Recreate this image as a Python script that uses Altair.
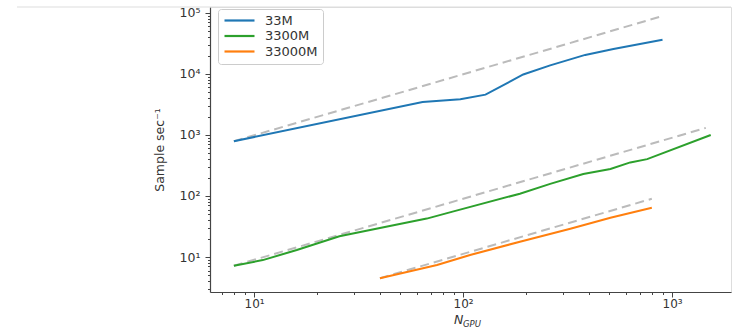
import altair as alt
import pandas as pd

series = ["33M", "3300M", "33000M"]
colors = ["#1f77b4", "#2ca02c", "#ff7f0e"]

n_33m = [8, 64, 97, 128, 194, 261, 384, 524, 900]
s_33m = [790, 3470, 3850, 4580, 9800, 13800, 20500, 25700, 36300]

n_3300m = [8, 11, 16, 25.6, 40, 67, 90, 187, 261, 376, 507, 631, 760, 1531]
s_3300m = [7.2, 8.9, 13, 21.9, 29.9, 42.6, 56, 109, 158, 229, 277, 355, 402, 1000]

n_33000m = [40, 75, 108, 187, 326, 507, 800]
s_33000m = [4.5, 7.4, 10.8, 17.8, 29, 44, 64]

# ideal (linear scaling) reference lines, endpoints
ideal_n_33m = [8, 900]
ideal_s_33m = [790, 88900]
ideal_n_3300m = [8, 1450]
ideal_s_3300m = [7.2, 1305]
ideal_n_33000m = [40, 800]
ideal_s_33000m = [4.5, 90]

x_major = [10, 100, 1000]
x_minor = [7, 8, 9, 20, 30, 40, 50, 60, 70, 80, 90, 200, 300, 400, 500, 600, 700, 800, 900]
y_major = [10, 100, 1000, 10000, 100000]
y_minor = [3, 4, 5, 6, 7, 8, 9, 20, 30, 40, 50, 60, 70, 80, 90,
           200, 300, 400, 500, 600, 700, 800, 900,
           2000, 3000, 4000, 5000, 6000, 7000, 8000, 9000,
           20000, 30000, 40000, 50000, 60000, 70000, 80000, 90000]

rows = []
for name, ns, ss in [("33M", n_33m, s_33m), ("3300M", n_3300m, s_3300m), ("33000M", n_33000m, s_33000m)]:
    for n, s in zip(ns, ss):
        rows.append({"series": name, "n": n, "s": s})
df = pd.DataFrame(rows)

irows = []
for name, ns, ss in [("33M", ideal_n_33m, ideal_s_33m), ("3300M", ideal_n_3300m, ideal_s_3300m),
                     ("33000M", ideal_n_33000m, ideal_s_33000m)]:
    for n, s in zip(ns, ss):
        irows.append({"series": name, "n": n, "s": s})
idf = pd.DataFrame(irows)

FONT = "DejaVu Sans"
is_major = "abs(log(datum.value)/LN10 - round(log(datum.value)/LN10)) < 1e-6"
sup = "['⁰','¹','²','³','⁴','⁵','⁶']"
label_expr = f"({is_major}) ? '10' + {sup}[round(log(datum.value)/LN10)] : ''"
tick_size = {"condition": {"test": is_major, "value": 5}, "value": 2.5}

xscale = alt.Scale(type="log", domain=[6.15, 1914], nice=False)
yscale = alt.Scale(type="log", domain=[2.67, 125000], nice=False)

xaxis = alt.Axis(values=x_major + x_minor, labelExpr=label_expr, tickSize=tick_size,
                 grid=False, title=None, labelFont=FONT, labelFontSize=12, labelColor="#333",
                 labelOverlap=False, labelFlush=False, labelBound=False, labelPadding=1,
                 domainColor="#444", tickColor="#444", domainWidth=1.2)
yaxis = alt.Axis(values=y_major + y_minor, labelExpr=label_expr, tickSize=tick_size,
                 grid=False, title="Sample sec⁻¹", titleFont=FONT, titleFontSize=12.5,
                 titleFontWeight="normal", titleColor="#333", titlePadding=13,
                 labelFont=FONT, labelFontSize=12.5, labelColor="#333",
                 labelOverlap=False, labelFlush=False, labelBound=False, labelPadding=5,
                 domainColor="#444", tickColor="#444", domainWidth=1.2)

color = alt.Color("series:N", scale=alt.Scale(domain=series, range=colors), sort=series,
                  legend=alt.Legend(orient="none", legendX=8, legendY=2, title=None,
                                    symbolType="M-3,0H3", symbolStrokeWidth=2.2, symbolSize=100,
                                    labelFont=FONT, labelFontSize=13, labelColor="#333",
                                    strokeColor="#cccccc", cornerRadius=3, padding=5,
                                    fillColor="white", rowPadding=1.5, labelOffset=19,
                                    symbolOffset=10))

ideal = alt.Chart(idf).mark_line(color="#bbbbbb", strokeWidth=2, strokeDash=[9, 5]).encode(
    x=alt.X("n:Q", scale=xscale, axis=xaxis),
    y=alt.Y("s:Q", scale=yscale, axis=yaxis),
    detail="series:N",
)

lines = alt.Chart(df).mark_line(strokeWidth=2).encode(
    x=alt.X("n:Q", scale=xscale, axis=xaxis),
    y=alt.Y("s:Q", scale=yscale, axis=yaxis),
    color=color,
)

one = alt.Data(values=[{"a": 1}])
t_n = alt.Chart(one).mark_text(text="N", font=FONT, fontSize=12.5, fontStyle="italic",
                               align="left", baseline="alphabetic", color="#333").encode(
    x=alt.value(244), y=alt.value(317))
t_gpu = alt.Chart(one).mark_text(text="GPU", font=FONT, fontSize=8.5, fontStyle="italic",
                                 align="left", baseline="alphabetic", color="#333").encode(
    x=alt.value(253), y=alt.value(320))
top_rule = alt.Chart(one).mark_rule(color="#dddddd", strokeWidth=1).encode(
    x=alt.value(-193), x2=alt.value(521), y=alt.value(0))

chart = alt.layer(ideal, lines, t_n, t_gpu, top_rule).properties(
    width=521, height=285,
    autosize=alt.AutoSizeParams(type="none"),
    padding={"left": 210, "top": 7, "right": 3, "bottom": 36},
).configure_view(stroke="#dddddd", strokeWidth=1)

chart.save("out.html", embed_options={"renderer": "svg", "actions": False})
